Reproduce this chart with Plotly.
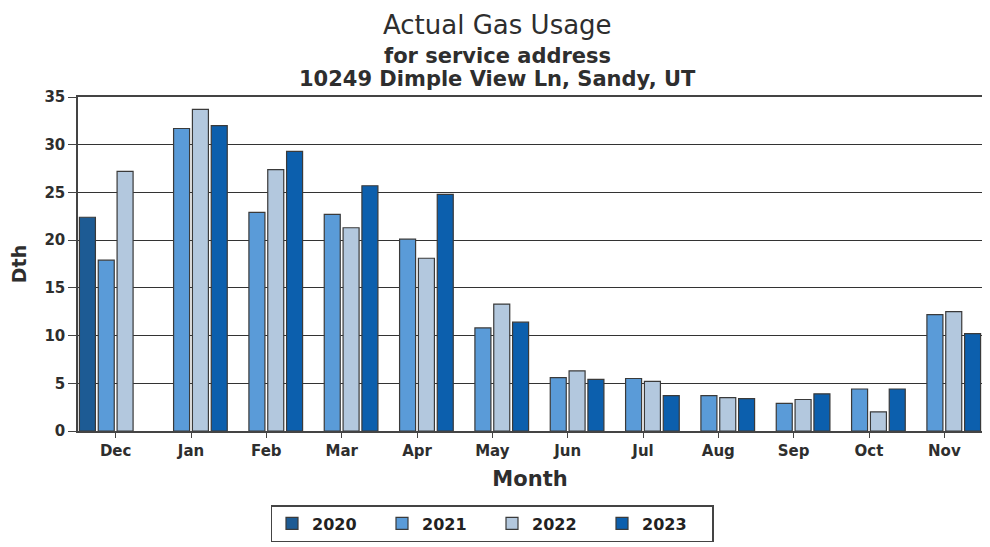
import plotly.graph_objects as go

months = ["Dec", "Jan", "Feb", "Mar", "Apr", "May", "Jun", "Jul", "Aug", "Sep", "Oct", "Nov"]
years = ["2020", "2021", "2022", "2023"]
usage_2020 = [22.4, None, None, None, None, None, None, None, None, None, None, None]
usage_2021 = [17.9, 31.7, 22.9, 22.7, 20.1, 10.8, 5.6, 5.5, 3.7, 2.9, 4.4, 12.2]
usage_2022 = [27.2, 33.7, 27.4, 21.3, 18.1, 13.3, 6.3, 5.2, 3.5, 3.3, 2.0, 12.5]
usage_2023 = [None, 32.0, 29.3, 25.7, 24.8, 11.4, 5.4, 3.7, 3.4, 3.9, 4.4, 10.2]
y_ticks = [0, 5, 10, 15, 20, 25, 30, 35]

series = [usage_2020, usage_2021, usage_2022, usage_2023]
colors = ["#1d5b94", "#5a9bd8", "#b3c8de", "#0c5fad"]

fig = go.Figure()
for name, vals, col in zip(years, series, colors):
    fig.add_trace(go.Bar(
        x=months, y=vals, name=name,
        marker=dict(color=col, line=dict(color="#3a3a3a", width=1.2)),
    ))

font_main = "DejaVu Sans, sans-serif"
txt = "#2e2e2e"

# page body has an 8px default margin, so the figure is sized to fit within it
W, H = 982, 539

fig.update_layout(
    width=W, height=H,
    paper_bgcolor="white", plot_bgcolor="white",
    margin=dict(l=70, r=8, t=89, b=116, autoexpand=False),
    barmode="group", bargap=0.0, bargroupgap=0.15,
    font=dict(family=font_main, color=txt),
    showlegend=True,
    legend=dict(
        orientation="h", x=484 / W, xanchor="center", xref="container",
        y=1 - 497 / H, yanchor="top", yref="container",
        bordercolor="#444444", borderwidth=1.5, bgcolor="white",
        font=dict(family=font_main, size=16, color="#222222", weight="bold"),
        itemwidth=30, traceorder="normal", entrywidth=65,
    ),
    annotations=[
        dict(text="Actual Gas Usage", x=0.4635, y=1.2665, xref="paper", yref="paper",
             showarrow=False, xanchor="center", yanchor="top",
             font=dict(family=font_main, size=26, color=txt)),
        dict(text="for service address", x=0.4635, y=1.1228, xref="paper", yref="paper",
             showarrow=False, xanchor="center", yanchor="middle",
             font=dict(family=font_main, size=21, color=txt, weight="bold")),
        dict(text="10249 Dimple View Ln, Sandy, UT", x=0.4635, y=1.054, xref="paper", yref="paper",
             showarrow=False, xanchor="center", yanchor="middle",
             font=dict(family=font_main, size=21, color=txt, weight="bold")),
    ],
)

fig.update_xaxes(
    type="category", categoryorder="array", categoryarray=months,
    automargin=False,
    showline=True, linecolor="#444444", linewidth=1.5, mirror=True,
    ticks="outside", ticklen=5, tickcolor="#444444",
    tickfont=dict(family=font_main, size=15, color=txt, weight="bold"),
    title=dict(text="Month", standoff=13,
               font=dict(family=font_main, size=21, color=txt, weight="bold")),
    showgrid=False,
)
fig.update_yaxes(
    range=[0, 35], tickvals=y_ticks, automargin=False,
    showline=True, linecolor="#444444", linewidth=1.5, mirror=True,
    ticks="outside", ticklen=8, tickcolor="#444444",
    showgrid=True, gridcolor="#333333", gridwidth=1.4,
    tickfont=dict(family=font_main, size=15, color=txt, weight="bold"),
    title=dict(text="Dth", standoff=14,
               font=dict(family=font_main, size=19, color=txt, weight="bold")),
    zeroline=False,
)

fig.write_html("out.html")
